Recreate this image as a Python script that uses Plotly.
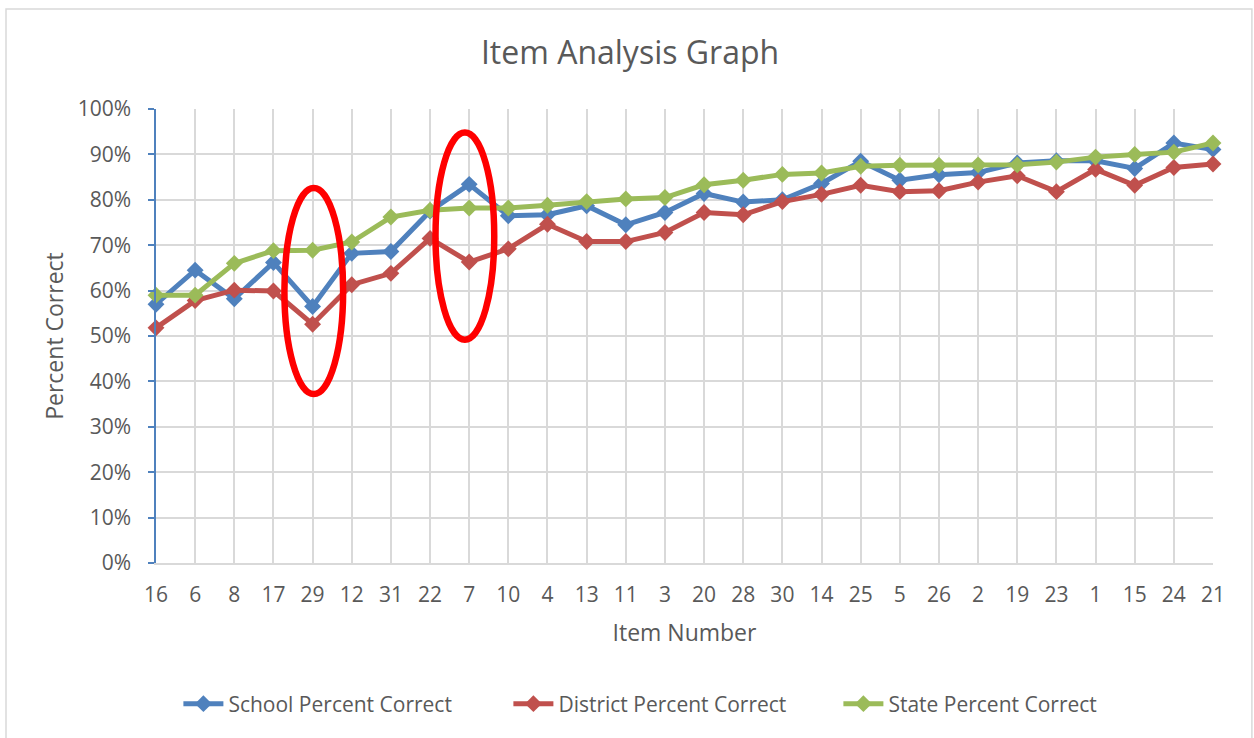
import plotly.graph_objects as go

items = ["16", "6", "8", "17", "29", "12", "31", "22", "7", "10", "4", "13", "11", "3",
         "20", "28", "30", "14", "25", "5", "26", "2", "19", "23", "1", "15", "24", "21"]

school = [0.570, 0.645, 0.582, 0.662, 0.565, 0.682, 0.686, 0.775, 0.834, 0.765, 0.767, 0.787,
          0.745, 0.772, 0.814, 0.795, 0.800, 0.836, 0.885, 0.843, 0.855, 0.860, 0.881, 0.886,
          0.886, 0.869, 0.925, 0.911]
district = [0.518, 0.578, 0.601, 0.599, 0.526, 0.613, 0.638, 0.715, 0.663, 0.692, 0.746, 0.708,
            0.708, 0.728, 0.772, 0.767, 0.796, 0.812, 0.832, 0.818, 0.820, 0.839, 0.853, 0.818,
            0.867, 0.832, 0.871, 0.879]
state = [0.590, 0.590, 0.660, 0.688, 0.689, 0.707, 0.762, 0.777, 0.782, 0.782, 0.788, 0.796,
         0.802, 0.805, 0.833, 0.843, 0.856, 0.859, 0.874, 0.876, 0.876, 0.877, 0.877, 0.883,
         0.894, 0.900, 0.905, 0.925]

series = [
    ("School Percent Correct", school, "#4F81BD"),
    ("District Percent Correct", district, "#C0504D"),
    ("State Percent Correct", state, "#9BBB59"),
]

FONT = "Open Sans"
TXT = "#595959"
GRID = "#D9D9D9"

fig = go.Figure()
for name, vals, col in series:
    fig.add_trace(go.Scatter(
        x=items, y=vals, name=name, mode="lines+markers",
        line=dict(color=col, width=5),
        marker=dict(symbol="diamond", size=13, color=col),
        cliponaxis=False,
    ))

# highlight ellipses (around items 29 and 7)
fig.add_shape(type="circle", xref="x", yref="y", x0=3.28, x1=4.78, y0=0.372, y1=0.826,
              line=dict(color="#FF0000", width=6.5))
fig.add_shape(type="circle", xref="x", yref="y", x0=7.14, x1=8.64, y0=0.492, y1=0.948,
              line=dict(color="#FF0000", width=6.5))

# chart-area border
fig.add_shape(type="rect", xref="paper", yref="paper", x0=-0.1419, x1=1.0368, y0=-0.45, y1=1.2203,
              line=dict(color=GRID, width=1.5), fillcolor="rgba(0,0,0,0)", layer="below")

fig.update_layout(
    width=1254, height=738,
    margin=dict(l=156, r=41, t=109, b=175),
    paper_bgcolor="white", plot_bgcolor="white",
    font=dict(family=FONT, color=TXT, size=21),
    title=dict(text="Item Analysis Graph", x=630 / 1254, xref="container", xanchor="center",
               y=1 - 53 / 738, yref="container", yanchor="middle",
               font=dict(size=32, color=TXT, family=FONT)),
    showlegend=True,
    legend=dict(orientation="h", xref="container", yref="container", x=0.537, xanchor="center",
                y=1 - 704 / 738, yanchor="middle", font=dict(size=21, color=TXT, family=FONT),
                entrywidth=275, itemwidth=40, bgcolor="rgba(0,0,0,0)"),
    xaxis=dict(type="category", range=[0, 27], showgrid=True, gridcolor=GRID, gridwidth=1.5,
               showline=True, linecolor=GRID, linewidth=1.5, ticks="", zeroline=False,
               tickfont=dict(size=21, color=TXT, family=FONT), ticklabelstandoff=12,
               title=dict(text="Item Number", font=dict(size=23, color=TXT, family=FONT), standoff=18)),
    yaxis=dict(range=[0, 1], dtick=0.1, tickformat=".0%", showgrid=True, gridcolor=GRID,
               gridwidth=1.5, showline=True, linecolor="#4F81BD", linewidth=1.5,
               ticks="outside", ticklen=6, tickcolor="#4F81BD", tickwidth=1.5, zeroline=False,
               tickfont=dict(size=21, color=TXT, family=FONT), ticklabelstandoff=13,
               title=dict(text="Percent Correct", font=dict(size=23, color=TXT, family=FONT), standoff=8)),
)

fig.write_html("out.html", config={"displayModeBar": False},
               post_script="document.body.style.margin='0';")
